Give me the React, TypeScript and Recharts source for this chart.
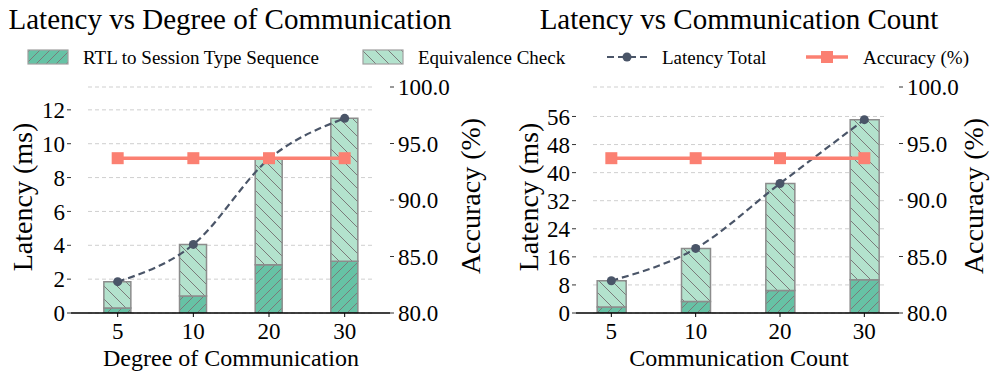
import React from "react";
import {
  ComposedChart,
  Bar,
  Line,
  XAxis,
  YAxis,
  CartesianGrid,
} from "recharts";

// left panel: degree of communication
const degreeCats = ["5", "10", "20", "30"];
const degreeRtl = [0.3, 1.0, 2.85, 3.05];
const degreeEquiv = [1.55, 3.05, 6.25, 8.45];
const degreeTotal = [1.85, 4.05, 9.1, 11.5];
const degreeAcc = [93.7, 93.7, 93.7, 93.7];
const degreeTicks = [0, 2, 4, 6, 8, 10, 12];

// right panel: communication count
const countCats = ["5", "10", "20", "30"];
const countRtl = [1.7, 3.3, 6.4, 9.5];
const countEquiv = [7.5, 15.1, 30.5, 45.6];
const countTotal = [9.2, 18.4, 36.9, 55.1];
const countAcc = [93.7, 93.7, 93.7, 93.7];
const countTicks = [0, 8, 16, 24, 32, 40, 48, 56];

const accTicks = [80, 85, 90, 95, 100];

const FONT = "Liberation Serif, Tinos, Times New Roman, Times, DejaVu Serif, serif";
const GREEN = "#66c2a5";
const LIGHT = "#b3e2cd";
const SLATE = "#4a5568";
const SALMON = "#fb8072";
const EDGE = "#8c8c8c";

const buildRows = (
  cats: string[],
  rtl: number[],
  equiv: number[],
  total: number[],
  acc: number[]
) =>
  cats.map((c, i) => ({
    idx: i,
    cat: c,
    rtl: rtl[i],
    equiv: equiv[i],
    total: total[i],
    acc: acc[i],
  }));

const SquareDot = (props: any) => {
  const { cx, cy, index } = props;
  if (cx == null || cy == null) return <g key={"sq" + index} />;
  return (
    <rect
      key={"sq" + index}
      x={cx - 6}
      y={cy - 6}
      width={12}
      height={12}
      fill={SALMON}
    />
  );
};

const gridLine = (props: any) => (
  <line
    key={"grid" + props.y1}
    x1={props.x1 + 17}
    x2={props.x2 - 15}
    y1={props.y1}
    y2={props.y2}
    stroke="#cfcfcf"
    strokeWidth={1}
    strokeDasharray="4 3"
  />
);

interface PanelProps {
  rows: any[];
  cats: string[];
  yMax: number;
  yTicks: number[];
  xDomain: number[];
  barSize: number;
  width: number;
  margin: { top: number; right: number; bottom: number; left: number };
}

const Panel = (props: PanelProps) => {
  const tickStyle = { fontSize: 23, fill: "#000", fontFamily: FONT };
  return (
    <ComposedChart
      width={props.width}
      height={382}
      data={props.rows}
      margin={props.margin}
      style={{ fontFamily: FONT }}
    >
      <CartesianGrid
        yAxisId="l"
        vertical={false}
        horizontal={gridLine}
      />
      <XAxis
        dataKey="idx"
        type="number"
        domain={props.xDomain}
        allowDataOverflow
        ticks={[0, 1, 2, 3]}
        interval={0}
        tickFormatter={(v: number) => props.cats[v]}
        height={30}
        tick={tickStyle}
        tickSize={4}
        tickMargin={6}
        axisLine={{ stroke: "#000", strokeWidth: 1.5 }}
        tickLine={{ stroke: "#000" }}
      />
      <YAxis
        yAxisId="l"
        width={60}
        domain={[0, props.yMax]}
        allowDataOverflow
        ticks={props.yTicks}
        interval={0}
        tick={tickStyle}
        tickSize={4}
        tickMargin={2}
        axisLine={false}
        tickLine={{ stroke: "#333" }}
      />
      <YAxis
        yAxisId="r"
        orientation="right"
        width={60}
        domain={[80, 100]}
        allowDataOverflow
        ticks={accTicks}
        interval={0}
        tickFormatter={(v: number) => v.toFixed(1)}
        tick={tickStyle}
        tickSize={4}
        tickMargin={4}
        axisLine={false}
        tickLine={{ stroke: "#333" }}
      />
      <Bar
        yAxisId="l"
        dataKey="rtl"
        stackId="lat"
        barSize={props.barSize}
        fill="url(#hatchFwd)"
        stroke={EDGE}
        strokeWidth={1.5}
        isAnimationActive={false}
      />
      <Bar
        yAxisId="l"
        dataKey="equiv"
        stackId="lat"
        barSize={props.barSize}
        fill="url(#hatchBack)"
        stroke={EDGE}
        strokeWidth={1.5}
        isAnimationActive={false}
      />
      <Line
        yAxisId="l"
        dataKey="total"
        type="monotone"
        stroke={SLATE}
        strokeWidth={2.2}
        strokeDasharray="7 4"
        dot={{ r: 4.5, fill: SLATE, stroke: SLATE, strokeWidth: 0, strokeDasharray: "0" }}
        isAnimationActive={false}
      />
      <Line
        yAxisId="r"
        dataKey="acc"
        type="linear"
        stroke={SALMON}
        strokeWidth={3.5}
        dot={SquareDot}
        isAnimationActive={false}
      />
    </ComposedChart>
  );
};

const Patterns = () => (
  <svg width={0} height={0} style={{ position: "absolute" }}>
    <defs>
      <pattern id="hatchFwd" patternUnits="userSpaceOnUse" width={10} height={10}>
        <rect width={10} height={10} fill={GREEN} />
        <path d="M-1,1 l2,-2 M0,10 l10,-10 M9,11 l2,-2" stroke="#7a7a7a" strokeWidth={1} />
      </pattern>
      <pattern id="hatchBack" patternUnits="userSpaceOnUse" width={13} height={13}>
        <rect width={13} height={13} fill={LIGHT} />
        <path d="M-1,12 l2,2 M0,0 l13,13 M12,-1 l2,2" stroke="#7a7a7a" strokeWidth={1} />
      </pattern>
    </defs>
  </svg>
);

const Overlay = () => (
  <svg
    width={997}
    height={382}
    style={{ position: "absolute", left: 0, top: 0, pointerEvents: "none", fontFamily: FONT }}
  >
    <text x={230} y={29} fontSize={29} textAnchor="middle" fill="#000">
      Latency vs Degree of Communication
    </text>
    <text x={739} y={29} fontSize={29} textAnchor="middle" fill="#000">
      Latency vs Communication Count
    </text>

    <rect x={28} y={50} width={40} height={14} fill="url(#hatchFwd)" stroke="#a0a0a0" strokeWidth={1.2} />
    <text x={83} y={64} fontSize={19}>RTL to Session Type Sequence</text>
    <rect x={363} y={50} width={40} height={14} fill="url(#hatchBack)" stroke="#a0a0a0" strokeWidth={1.2} />
    <text x={418} y={64} fontSize={19}>Equivalence Check</text>
    <line x1={607} x2={647} y1={57} y2={57} stroke={SLATE} strokeWidth={2.2} strokeDasharray="7 4" />
    <circle cx={627} cy={57} r={4.5} fill={SLATE} />
    <text x={662} y={64} fontSize={19}>Latency Total</text>
    <line x1={806} x2={848} y1={57} y2={57} stroke={SALMON} strokeWidth={3.5} />
    <rect x={821} y={51} width={12} height={12} fill={SALMON} />
    <text x={863} y={64} fontSize={19}>Accuracy (%)</text>

    <text x={231} y={366} fontSize={24} textAnchor="middle">Degree of Communication</text>
    <text x={739} y={366} fontSize={24} textAnchor="middle">Communication Count</text>

    <text transform="translate(31.5,197) rotate(-90)" fontSize={28} textAnchor="middle">Latency (ms)</text>
    <text transform="translate(480,196) rotate(-90)" fontSize={28} textAnchor="middle">Accuracy (%)</text>
    <text transform="translate(538,197) rotate(-90)" fontSize={28} textAnchor="middle">Latency (ms)</text>
    <text transform="translate(983,196) rotate(-90)" fontSize={28} textAnchor="middle">Accuracy (%)</text>
  </svg>
);

const App = () => {
  const degreeRows = buildRows(degreeCats, degreeRtl, degreeEquiv, degreeTotal, degreeAcc);
  const countRows = buildRows(countCats, countRtl, countEquiv, countTotal, countAcc);
  return (
    <div
      style={{
        position: "absolute",
        left: 0,
        top: 0,
        width: 997,
        height: 382,
        background: "#fff",
        fontFamily: FONT,
      }}
    >
      <Patterns />
      <div style={{ position: "absolute", left: 0, top: 0 }}>
        <Panel
          rows={degreeRows}
          cats={degreeCats}
          yMax={13.35}
          yTicks={degreeTicks}
          xDomain={[-0.617, 3.599]}
          barSize={27}
          width={500}
          margin={{ top: 87, right: 50, bottom: 39, left: 11 }}
        />
      </div>
      <div style={{ position: "absolute", left: 500, top: 0 }}>
        <Panel
          rows={countRows}
          cats={countCats}
          yMax={64.4}
          yTicks={countTicks}
          xDomain={[-0.419, 3.411]}
          barSize={29}
          width={497}
          margin={{ top: 87, right: 38, bottom: 39, left: 16 }}
        />
      </div>
      <Overlay />
    </div>
  );
};

export default App;
